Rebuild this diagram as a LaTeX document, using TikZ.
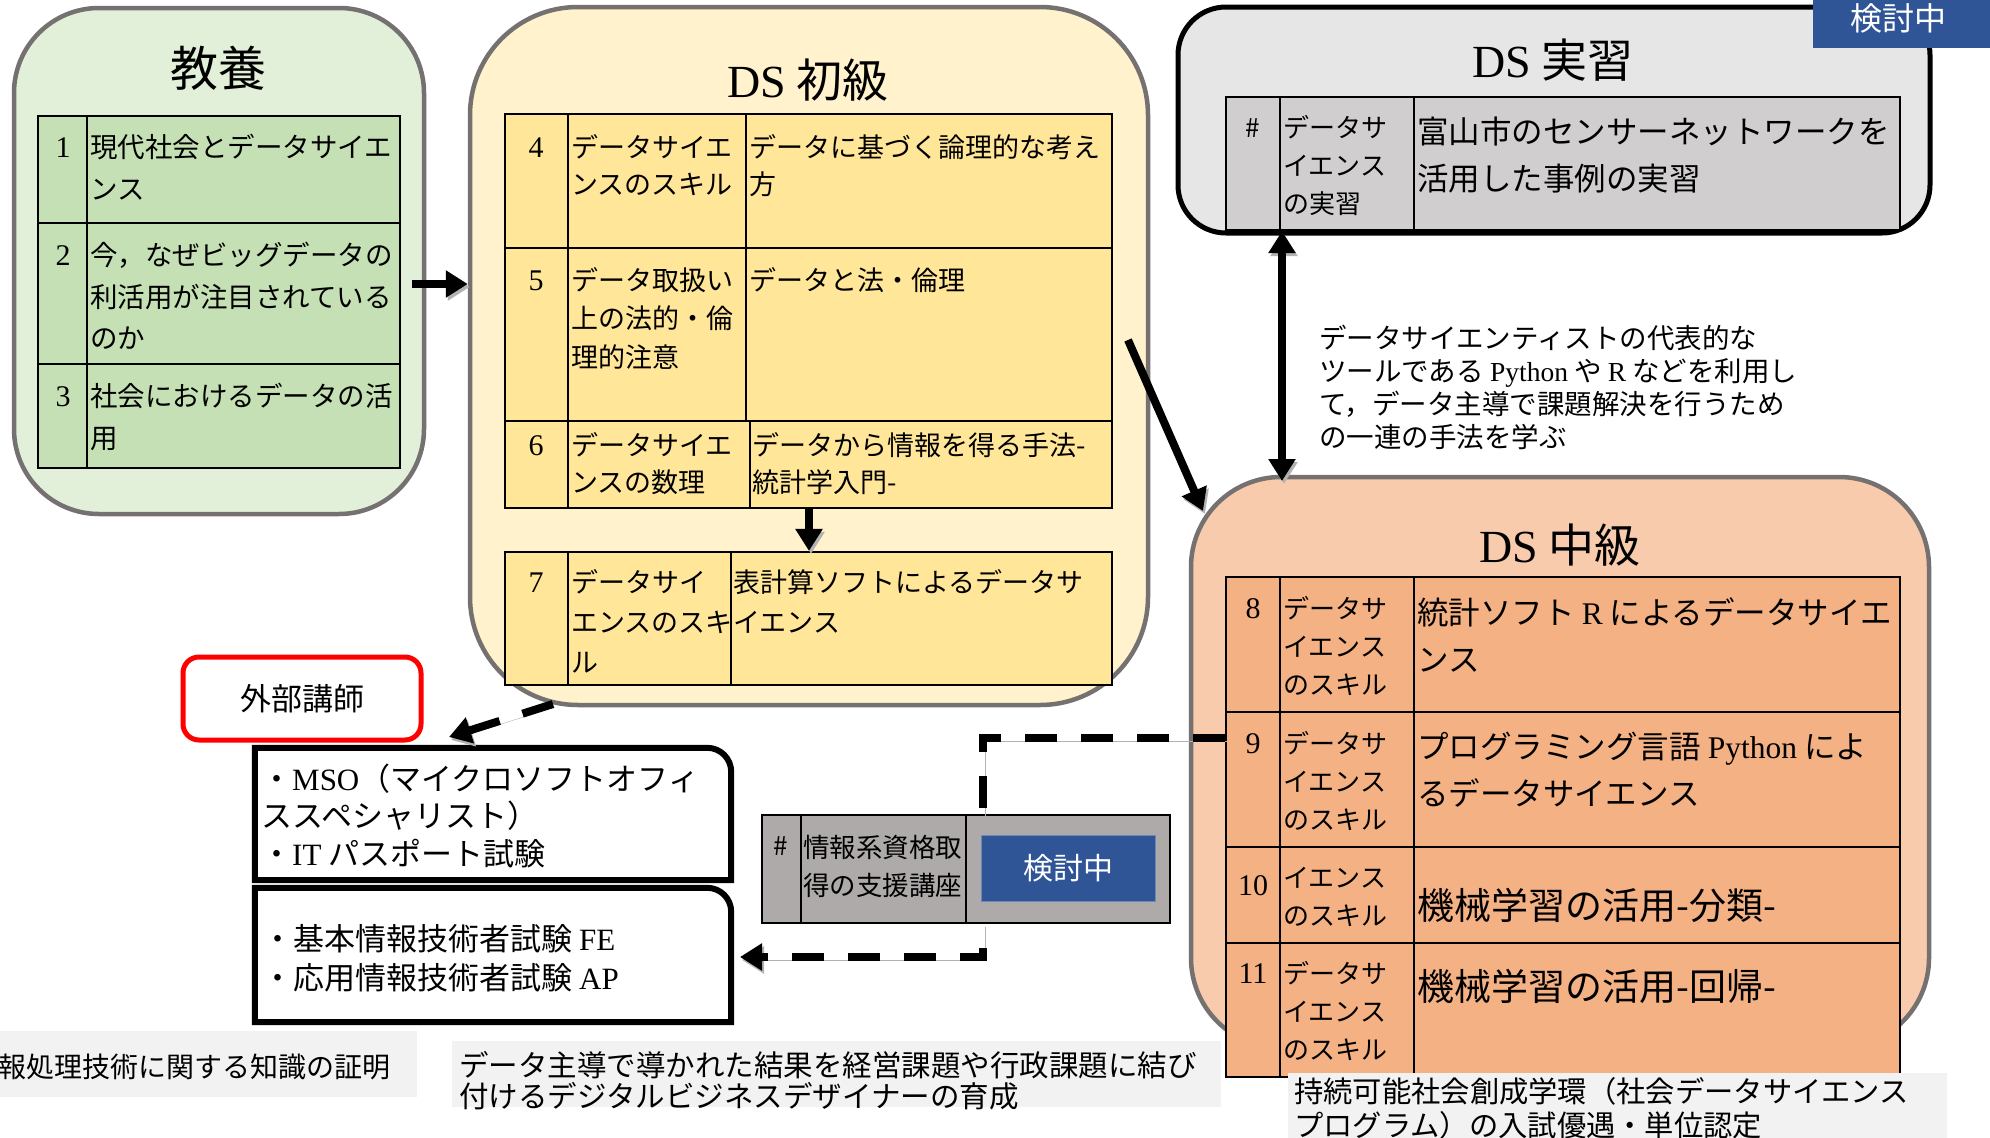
\documentclass[tikz,border=0pt]{standalone}
\usepackage{fontspec}
\setmainfont{Liberation Serif}
\usetikzlibrary{arrows.meta}
\newfontfamily\jp{Noto Sans CJK JP}
\definecolor{kbg}{HTML}{E2F0D9}
\definecolor{ktb}{HTML}{C5E0B4}
\definecolor{sbg}{HTML}{FFF2CC}
\definecolor{stb}{HTML}{FFE699}
\definecolor{jbg}{HTML}{E7E6E6}
\definecolor{jtb}{HTML}{D0CECE}
\definecolor{cbg}{HTML}{F8CBAD}
\definecolor{ctb}{HTML}{F4B183}
\definecolor{qtb}{HTML}{AEAAAA}
\definecolor{blu}{HTML}{2F5597}
\definecolor{bord}{HTML}{767171}
\definecolor{note}{HTML}{F2F2F2}
\newcommand\jf[2]{\fontsize{#1}{#2}\selectfont\jp\lineskiplimit=-100pt }
\newcommand\tcell[6]{\node[inner sep=0pt, anchor=north west, align=left, font=\jf{#4}{#5}] (#1) at (#2,{#3-0.7*#5}) {\strut #6};}
\newcommand\tnum[4]{\node[inner sep=0pt, anchor=base, font=\fontsize{30}{30}\selectfont] (#1) at (#2,#3) {#4};}
\begin{document}
\begin{tikzpicture}[x=1pt,y=-1pt,
  outer/.style={draw=bord, line width=4.5pt},
  tbl/.style={draw=black, line width=2.2pt, inner sep=0pt},
  tl/.style={line width=2.2pt},
  shad/.style={preaction={draw=black!30, transform canvas={shift={(2pt,-3pt)}}}},
  tip/.style={-{Triangle[length=22pt,width=26pt]}},
  arr/.style={line width=8pt, tip, shad},
  dsh/.style={line width=8pt, dash pattern=on 32pt off 24pt, shad},
  title/.style={anchor=base, inner sep=0pt, font=\jf{46}{46}}]
\useasboundingbox (0,0) rectangle (1990,1138);
\fill[white] (0,0) rectangle (1990,1138);

% ---------- big rounded boxes
\node[outer, fill=kbg, rounded corners=85pt, minimum width=410pt, minimum height=506pt] (kyoyo) at (219,261) {};
\node[outer, fill=sbg, rounded corners=108pt, minimum width=678pt, minimum height=698pt] (shokyu) at (809,356) {};
\node[draw=black, line width=5pt, fill=jbg, rounded corners=48pt, minimum width=752pt, minimum height=226pt] (jisshu) at (1554,120) {};
\node[outer, fill=cbg, rounded corners=90pt, minimum width=738pt, minimum height=571pt] (chukyu) at (1560,762.5) {};

% ---------- titles
\node[title, font=\jf{48}{48}] (tk) at (218,86) {教養};
\node[title] (ts) at (808,97) {{\rmfamily DS} 初級};
\node[title] (tj) at (1553,77) {{\rmfamily DS} 実習};
\node[title] (tc) at (1560,562) {{\rmfamily DS} 中級};

% ---------- 教養 table
\node[tbl, fill=ktb, minimum width=362pt, minimum height=352pt] (ktab) at (219,292) {};
\draw[tl] (87,116) -- (87,468) (38,223) -- (400,223) (38,364) -- (400,364);
\tnum{n1}{63}{157}{1}
\tcell{k1}{90}{157.5}{27.5}{41.5}{現代社会とデータサイエ\\ンス}
\tnum{n2}{63}{265}{2}
\tcell{k2}{90}{265.5}{27.5}{41.5}{今，なぜビッグデータの\\利活用が注目されている\\のか}
\tnum{n3}{63}{406}{3}
\tcell{k3}{90}{406.5}{27.5}{41.5}{社会におけるデータの活\\用}

% ---------- DS 初級 tables
\node[tbl, fill=stb, minimum width=607pt, minimum height=394pt] (stab) at (808.5,311) {};
\draw[tl] (568,114) -- (568,508) (746,114) -- (746,421) (750,421) -- (750,508)
  (505,248) -- (1112,248) (505,421) -- (1112,421);
\tnum{n4}{536}{157}{4}
\tcell{s4a}{571}{157}{27}{37}{データサイエ\\ンスのスキル}
\tcell{s4b}{749}{157}{27}{37}{データに基づく論理的な考え\\方}
\tnum{n5}{536}{290}{5}
\tcell{s5a}{571}{290}{27}{38.5}{データ取扱い\\上の法的・倫\\理的注意}
\tcell{s5b}{749}{290}{27}{38}{データと法・倫理}
\tnum{n6}{536}{455}{6}
\tcell{s6a}{571}{455}{27}{37}{データサイエ\\ンスの数理}
\tcell{s6b}{752}{455}{27}{37}{データから情報を得る手法-\\統計学入門-}

\node[tbl, fill=stb, minimum width=607pt, minimum height=133pt] (stab2) at (808.5,618.5) {};
\draw[tl] (568,552) -- (568,685) (731,552) -- (731,685);
\tnum{n7}{536}{592}{7}
\tcell{s7a}{571}{592}{27}{40}{データサイ\\エンスのスキ\\ル}
\tcell{s7b}{733}{592}{27}{40}{表計算ソフトによるデータサ\\イエンス}

% ---------- DS 実習 table
\node[tbl, fill=jtb, minimum width=674pt, minimum height=133pt] (jtab) at (1563,163.5) {};
\draw[tl] (1280,97) -- (1280,230) (1414,97) -- (1414,230);
\node[anchor=base, inner sep=0pt, font=\jf{26}{26}] (jn) at (1253,137) {\#};
\tcell{j1}{1283}{137}{26}{38}{データサ\\イエンス\\の実習}
\tcell{j2}{1417}{143}{31.5}{47.5}{富山市のセンサーネットワークを\\活用した事例の実習}

% ---------- DS 中級 table
\node[tbl, fill=ctb, minimum width=674pt, minimum height=500pt] (ctab) at (1563,827) {};
\draw[tl] (1280,577) -- (1280,1077) (1414,577) -- (1414,1077)
  (1226,712) -- (1900,712) (1226,847) -- (1900,847) (1226,943) -- (1900,943);
\tnum{n8}{1253}{618}{8}
\tcell{c8a}{1283}{618}{26}{38}{データサ\\イエンス\\のスキル}
\tcell{c8b}{1417}{624}{31.5}{47}{統計ソフト {\rmfamily R} によるデータサイエ\\ンス}
\tnum{n9}{1253}{753}{9}
\tcell{c9a}{1283}{753}{26}{38}{データサ\\イエンス\\のスキル}
\tcell{c9b}{1417}{758}{31.5}{47}{プログラミング言語 {\rmfamily Python} によ\\るデータサイエンス}
\tnum{n10}{1253}{895}{10}
\tcell{c10a}{1283}{887}{26}{38}{イエンス\\のスキル}
\tcell{c10b}{1417}{916}{37}{40}{機械学習の活用-分類-}
\tnum{n11}{1253}{983}{11}
\tcell{c11a}{1283}{983}{26}{38}{データサ\\イエンス\\のスキル}
\tcell{c11b}{1417}{997}{37}{40}{機械学習の活用-回帰-}

% ---------- badge top right
\node[fill=blu, minimum width=177pt, minimum height=48pt, inner sep=0pt] (tbadge) at (1901.5,24) {};
\node[text=white, inner sep=0pt, font=\jf{32}{32}] (tbt) at (1898,18) {検討中};

% ---------- description
\tcell{desc}{1319}{348}{27.5}{33}{データサイエンティストの代表的な\\ツールである {\rmfamily Python} や {\rmfamily R} などを利用し\\て，データ主導で課題解決を行うため\\の一連の手法を学ぶ}

% ---------- 情報系資格 table
\node[tbl, fill=qtb, minimum width=408pt, minimum height=108pt] (qtab) at (966,869) {};
\draw[tl] (801,815) -- (801,923) (966,815) -- (966,923);
\node[anchor=base, inner sep=0pt, font=\jf{26}{26}] (qn) at (781,855) {\#};
\tcell{q1t}{803}{857}{26.5}{38}{情報系資格取\\得の支援講座}
\node[fill=blu, draw=blu!70!white, line width=1pt, minimum width=174pt, minimum height=66pt, text=white, font=\jf{30}{30}] (qbadge) at (1068,868) {検討中};

% ---------- 外部講師 and exam boxes
\node[draw=red, line width=5pt, rounded corners=16pt, minimum width=238pt, minimum height=83pt, font=\jf{31}{31}] (gaibu) at (302,698.5) {外部講師};
\node[minimum width=476pt, minimum height=132pt, inner sep=0pt] (mso) at (493,814) {};
\draw[line width=6pt] (mso.south west) -- (mso.north west) -- ([xshift=-24pt]mso.north east)
  arc[start angle=90, end angle=0, radius=24pt] -- (mso.south east) -- cycle;
\tcell{msot}{261}{790}{31}{37.5}{・{\rmfamily MSO}（マイクロソフトオフィ\\ススペシャリスト）\\・{\rmfamily IT} パスポート試験}
\node[minimum width=476pt, minimum height=134pt, inner sep=0pt] (fe) at (493,955) {};
\draw[line width=6pt] (fe.south west) -- (fe.north west) -- ([xshift=-24pt]fe.north east)
  arc[start angle=90, end angle=0, radius=24pt] -- (fe.south east) -- cycle;
\tcell{fet}{262}{950}{31}{39}{・基本情報技術者試験 {\rmfamily FE}\\・応用情報技術者試験 {\rmfamily AP}}

% ---------- connectors
\coordinate (a1) at (412,284);
\draw[arr] (a1) -- (a1 -| shokyu.west);
\coordinate (a67) at (809,0);
\draw[arr] (a67 |- stab.south) -- (a67 |- stab2.north);
\coordinate (d1) at (1128,340);
\coordinate (d2) at (1203,511);
\draw[arr] (d1) -- (d2);
\coordinate (v1) at (1282,0);
\coordinate (v2) at (1282,481);
\draw[line width=8pt, {Triangle[length=22pt,width=26pt]}-{Triangle[length=22pt,width=26pt]}, shad] (v1 |- jtab.south) -- (v2);
\coordinate (q1) at (983,738);
\draw[dsh] (q1 -| ctab.west) -- (q1) -- (q1 |- qtab.north);
\coordinate (q2) at (983,957);
\coordinate (q3) at (740,957);
\draw[dsh, dash phase=32pt, tip] (q1 |- qtab.south) -- (q2) -- (q3);
\coordinate (g1) at (553,704);
\coordinate (g2) at (449,737);
\draw[dsh, tip] (g1) -- (g2);

% ---------- bottom notes
\begin{scope}
\clip (0,0) rectangle (1990,1138);
\node[fill=note, minimum width=417pt, minimum height=66pt, inner sep=0pt] (nl) at (208.5,1064) {};
\node[anchor=base east, inner sep=0pt, font=\jf{28}{28}] (nlt) at (391,1077) {情報処理技術に関する知識の証明};
\node[fill=note, minimum width=769pt, minimum height=66pt, inner sep=0pt] (nm) at (836.5,1074) {};
\tcell{nmt}{459}{1073}{29.5}{30.5}{データ主導で導かれた結果を経営課題や行政課題に結び\\付けるデジタルビジネスデザイナーの育成}
\node[fill=note, minimum width=659pt, minimum height=66pt, inner sep=0pt] (nr) at (1617.5,1106) {};
\tcell{nrt}{1294}{1101}{29.3}{34}{持続可能社会創成学環（社会データサイエンス\\プログラム）の入試優遇・単位認定}
\end{scope}
\end{tikzpicture}
\end{document}
